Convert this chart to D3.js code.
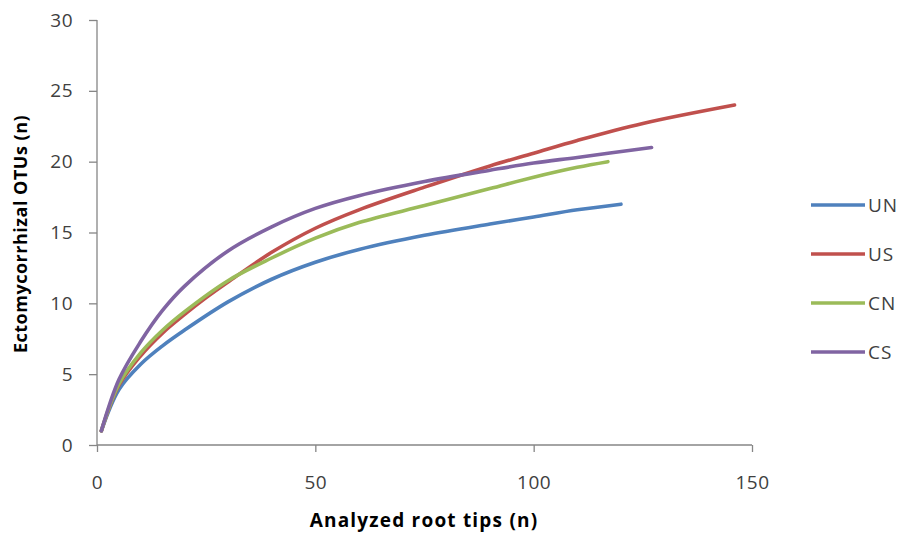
<!DOCTYPE html>
<html>
<head>
<meta charset="utf-8">
<script src="https://cdn.jsdelivr.net/npm/d3@7"></script>
<style>
  html, body { margin: 0; padding: 0; background: #fff; }
  svg { display: block; }
  text { font-family: "Open Sans", "Liberation Sans", sans-serif; }
</style>
</head>
<body>
<svg id="chart" width="908" height="540"></svg>
<script>
// ---- data ----
const seriesNames = ["UN", "US", "CN", "CS"];
const seriesColors = ["#4F81BD", "#C0504D", "#9BBB59", "#8064A2"];
const unX = [1, 5, 10, 15, 20, 30, 40, 50, 60, 75, 90, 100, 110, 120];
const unY = [1, 3.9, 5.7, 7.0, 8.1, 10.1, 11.7, 12.9, 13.8, 14.8, 15.6, 16.1, 16.6, 17.0];
const usX = [1, 5, 10, 15, 20, 25, 30, 40, 50, 60, 75, 90, 100, 110, 125, 146];
const usY = [1, 4.2, 6.3, 7.9, 9.2, 10.4, 11.5, 13.6, 15.3, 16.6, 18.2, 19.7, 20.6, 21.5, 22.7, 24.0];
const cnX = [1, 5, 10, 15, 20, 30, 40, 50, 60, 75, 90, 100, 110, 117];
const cnY = [1, 4.3, 6.5, 8.1, 9.4, 11.6, 13.2, 14.6, 15.7, 16.9, 18.1, 18.9, 19.6, 20.0];
const csX = [1, 5, 10, 15, 20, 30, 40, 50, 60, 75, 90, 100, 110, 127];
const csY = [1, 4.6, 7.3, 9.5, 11.2, 13.7, 15.4, 16.7, 17.6, 18.6, 19.4, 19.9, 20.3, 21.0];
const xTicks = [0, 50, 100, 150];
const yTicks = [0, 5, 10, 15, 20, 25, 30];
const xTitle = "Analyzed  root tips (n)";
const yTitle = "Ectomycorrhizal  OTUs  (n)";

const seriesX = [unX, usX, cnX, csX];
const seriesY = [unY, usY, cnY, csY];

// ---- layout ----
const svg = d3.select("#chart");
const mLeft = 97, mRight = 752, mTop = 20, mBottom = 445;
const x = d3.scaleLinear().domain([0, 150]).range([mLeft, mRight]);
const y = d3.scaleLinear().domain([0, 30]).range([mBottom, mTop]);
const axisColor = "#868686";
const textColor = "#404040";

// y axis
const yAxis = svg.append("g").attr("transform", `translate(${mLeft},0)`)
  .call(d3.axisLeft(y).tickValues(yTicks).tickSize(8).tickPadding(16).tickFormat(d3.format("d")));
// x axis
const xAxis = svg.append("g").attr("transform", `translate(0,${mBottom})`)
  .call(d3.axisBottom(x).tickValues(xTicks).tickSize(7).tickPadding(24).tickFormat(d3.format("d")));
[yAxis, xAxis].forEach(g => {
  g.select(".domain").attr("stroke", axisColor).attr("stroke-width", 1.3);
  g.selectAll(".tick line").attr("stroke", axisColor).attr("stroke-width", 1.3);
  g.selectAll(".tick text").attr("fill", textColor).style("font-size", "19px")
    .style("letter-spacing", "0.5px")
    .style("font-family", "'Open Sans', 'Liberation Sans', sans-serif");
});
yAxis.select(".domain").attr("d", `M0,${mTop}V${mBottom}`);
xAxis.select(".domain").attr("d", `M${mLeft},0H${mRight}`);

// lines
const line = d3.line().x(d => x(d[0])).y(d => y(d[1])).curve(d3.curveCatmullRom.alpha(0.5));
seriesNames.forEach((name, i) => {
  const pts = seriesX[i].map((xv, j) => [xv, seriesY[i][j]]);
  svg.append("path").datum(pts)
    .attr("fill", "none")
    .attr("stroke", seriesColors[i])
    .attr("stroke-width", 3.6)
    .attr("stroke-linecap", "round")
    .attr("stroke-linejoin", "round")
    .attr("d", line);
});

// legend
const legendY = [205, 254, 303, 352];
seriesNames.forEach((name, i) => {
  svg.append("line").attr("x1", 811).attr("x2", 865)
    .attr("y1", legendY[i]).attr("y2", legendY[i])
    .attr("stroke", seriesColors[i]).attr("stroke-width", 3.6);
  svg.append("text").attr("x", 868).attr("y", legendY[i]).attr("dy", "0.36em")
    .attr("fill", textColor).style("font-size", "19px").style("letter-spacing", "1px").text(name);
});

// axis titles
svg.append("text").attr("x", 424).attr("y", 527).attr("text-anchor", "middle")
  .style("font-size", "19px").style("font-weight", "bold").style("letter-spacing", "1.2px")
  .attr("fill", "#000")
  .text(xTitle);
svg.append("text").attr("transform", "translate(27,234) rotate(-90)").attr("text-anchor", "middle")
  .style("font-size", "18px").style("font-weight", "bold").style("letter-spacing", "0.5px")
  .attr("fill", "#000")
  .text(yTitle);
</script>
</body>
</html>
